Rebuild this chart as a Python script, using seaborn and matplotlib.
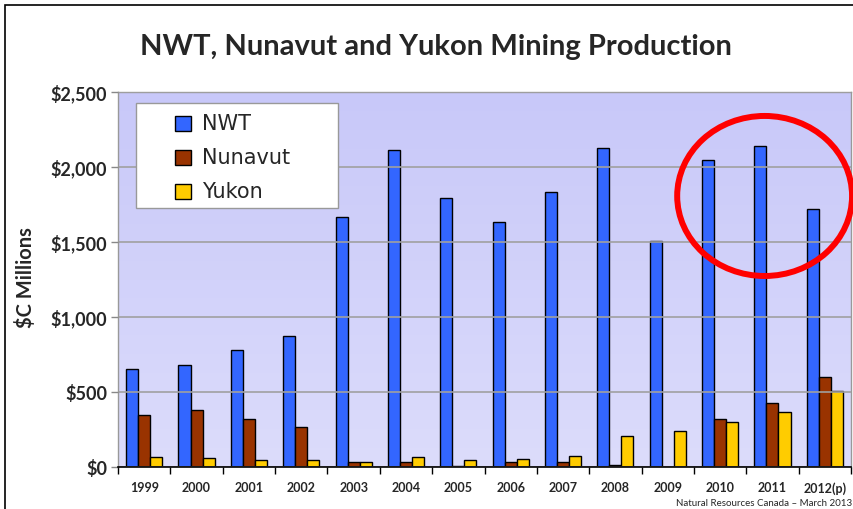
import numpy as np
import pandas as pd
import matplotlib
matplotlib.use("Agg")
import matplotlib.pyplot as plt
from matplotlib.patches import Ellipse, Rectangle
from matplotlib.colors import LinearSegmentedColormap
from matplotlib.ticker import FuncFormatter
import seaborn as sns

# values ($C millions)
years = ["1999", "2000", "2001", "2002", "2003", "2004", "2005",
         "2006", "2007", "2008", "2009", "2010", "2011", "2012(p)"]
nwt = [651, 678, 778, 871, 1664, 2111, 1791, 1636, 1833, 2124, 1509, 2047, 2140, 1720]
nunavut = [345, 379, 317, 266, 35, 35, 5, 35, 35, 13, 0, 317, 425, 597]
yukon = [64, 57, 44, 44, 35, 64, 44, 51, 73, 205, 242, 297, 368, 507]
territories = ["NWT", "Nunavut", "Yukon"]
colors = ["#3366FF", "#993300", "#FFCC00"]


def main():
    sns.set_style("white")
    plt.rcParams["font.family"] = ["Lato", "DejaVu Sans"]

    df = pd.DataFrame({
        "year": years * 3,
        "territory": [t for t in territories for _ in years],
        "value": nwt + nunavut + yukon,
    })

    fig = plt.figure(figsize=(8.54, 5.09), dpi=100)
    ax = fig.add_axes([0.1382, 0.0825, 0.8583, 0.7367])

    sns.barplot(data=df, x="year", y="value", hue="territory", hue_order=territories,
                palette=colors, saturation=1, width=0.69, edgecolor="black",
                linewidth=1, ax=ax, zorder=2)

    # gradient plot area, darker at the top
    cmap = LinearSegmentedColormap.from_list("bg", ["#DCDCFB", "#C8C8F9"])
    grad = np.linspace(0, 1, 256).reshape(-1, 1)
    ax.imshow(grad, cmap=cmap, aspect="auto", extent=[-0.5, 13.5, 0, 2500],
              zorder=0, origin="lower")
    ax.set_xlim(-0.5, 13.5)
    ax.set_ylim(0, 2500)

    ax.set_yticks(range(0, 2501, 500))
    ax.yaxis.set_major_formatter(FuncFormatter(lambda v, p: f"${v:,.0f}"))
    ax.grid(axis="y", color="#A0A0A0", linewidth=1.2, zorder=1)
    ax.set_axisbelow(False)
    for gl in ax.get_ygridlines():
        gl.set_zorder(1)

    for s in ["left", "top", "right"]:
        ax.spines[s].set_color("#999999")
        ax.spines[s].set_linewidth(1)
    ax.spines["bottom"].set_color("black")
    ax.spines["bottom"].set_linewidth(1.2)
    ax.spines["bottom"].set_zorder(3)

    ax.tick_params(axis="y", left=True, length=5, color="#888888", width=1, pad=3,
                   labelsize=13)
    for t in ax.get_yticklabels():
        t.set_fontweight("bold")
    ax.set_xticks(np.arange(-0.5, 14, 1), minor=True)
    ax.tick_params(axis="x", which="major", length=0, pad=11, labelsize=9)
    ax.tick_params(axis="x", which="minor", bottom=True, length=5, color="black", width=1)
    for t in ax.get_xticklabels():
        t.set_fontweight("bold")

    ax.set_xlabel("")
    ax.set_ylabel("$C Millions", fontsize=14.5, fontweight="bold")
    ax.yaxis.set_label_coords(-0.112, (467 - 278) / 375)

    # legend in white box
    handles, labels = ax.get_legend_handles_labels()
    ax.get_legend().remove()
    ax.add_patch(Rectangle((0.0246, 0.6907), 0.2756, 0.28, transform=ax.transAxes,
                           facecolor="white", edgecolor="#999999", linewidth=1, zorder=4))
    ax.legend(handles, labels, loc="upper left", bbox_to_anchor=(0.0585, 0.979),
              frameon=False, prop={"family": "DejaVu Sans", "size": 15},
              handlelength=0.75, handleheight=0.75, handletextpad=0.5,
              labelspacing=0.67, borderpad=0.2).set_zorder(5)

    # red highlight around 2010-2011
    ax.add_patch(Ellipse((11.85, 1807), 3.34, 1067, fill=False, edgecolor="#FF0000",
                         linewidth=4.3, clip_on=False, zorder=6))

    fig.suptitle("NWT, Nunavut and Yukon Mining Production", x=0.51, y=1 - 47 / 509,
                 va="center", fontsize=21, fontweight="bold")
    fig.text(852 / 854, 1 - 503 / 509, "Natural Resources Canada \u2013 March 2013",
             ha="right", va="center", fontsize=7)

    fig.add_artist(Rectangle((5 / 854, -0.05), 1.2, 1 - 5 / 509 + 0.05, fill=False,
                             edgecolor="black", linewidth=1.2, transform=fig.transFigure))

    fig.savefig("out.png", dpi=100)


if __name__ == "__main__":
    main()
